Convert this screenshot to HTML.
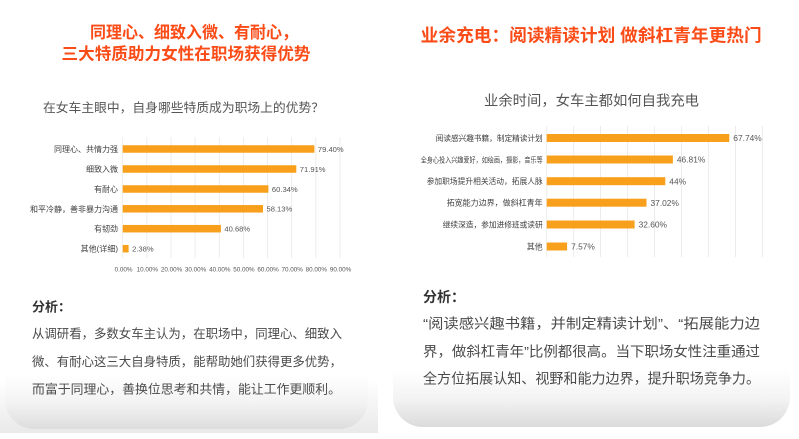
<!DOCTYPE html>
<html>
<head>
<meta charset="utf-8">
<style>
  html,body{margin:0;padding:0;background:#fff;}
  body{width:799px;height:439px;overflow:hidden;}
  svg{display:block;font-family:"Liberation Sans","Noto Sans CJK SC",sans-serif;}
</style>
</head>
<body>
<svg width="799" height="439" viewBox="0 0 799 439" xmlns="http://www.w3.org/2000/svg">
  <defs>
    <linearGradient id="bgL" x1="0" y1="0" x2="0" y2="1">
      <stop offset="0" stop-color="#ffffff"/>
      <stop offset="1" stop-color="#e9e9e9"/>
    </linearGradient>
    <linearGradient id="cardL" gradientUnits="userSpaceOnUse" x1="0" y1="375" x2="0" y2="430">
      <stop offset="0" stop-color="#ffffff"/>
      <stop offset="0.5" stop-color="#f3f3f3"/>
      <stop offset="1" stop-color="#dcdcdc"/>
    </linearGradient>
    <linearGradient id="cardR" gradientUnits="userSpaceOnUse" x1="0" y1="370" x2="0" y2="428">
      <stop offset="0" stop-color="#ffffff"/>
      <stop offset="0.5" stop-color="#f3f3f3"/>
      <stop offset="1" stop-color="#dadada"/>
    </linearGradient>
  </defs>

  <!-- left panel background -->
  <rect x="0" y="0" width="378" height="433" fill="#ffffff"/>
  <rect x="0" y="380" width="378" height="53" fill="url(#bgL)"/>
  <path d="M5 0 H368 V400 A29 29 0 0 1 339 429 H34 A29 29 0 0 1 5 400 Z" fill="url(#cardL)"/>

  <!-- right panel card -->
  <path d="M393 0 H790 V397 A30 30 0 0 1 760 427 H423 A30 30 0 0 1 393 397 Z" fill="url(#cardR)"/>

  <!-- LEFT TITLE -->
  <g fill="#fb4c18" font-weight="bold" font-size="16.5">
    <text x="90" y="38" textLength="208" lengthAdjust="spacingAndGlyphs">同理心、细致入微、有耐心，</text>
    <text x="61.5" y="59.3" textLength="249" lengthAdjust="spacingAndGlyphs">三大特质助力女性在职场获得优势</text>
  </g>
  <text x="43" y="111.8" font-size="12.7" fill="#555" textLength="281" lengthAdjust="spacingAndGlyphs">在女车主眼中，自身哪些特质成为职场上的优势？</text>

  <!-- LEFT CHART gridlines -->
  <g stroke="#e8e8e8" stroke-width="0.8">
    <line x1="122.7" y1="137" x2="122.7" y2="258"/>
    <line x1="146.8" y1="137" x2="146.8" y2="258"/>
    <line x1="171.0" y1="137" x2="171.0" y2="258"/>
    <line x1="195.1" y1="137" x2="195.1" y2="258"/>
    <line x1="219.3" y1="137" x2="219.3" y2="258"/>
    <line x1="243.4" y1="137" x2="243.4" y2="258"/>
    <line x1="267.5" y1="137" x2="267.5" y2="258"/>
    <line x1="291.7" y1="137" x2="291.7" y2="258"/>
    <line x1="315.8" y1="137" x2="315.8" y2="258"/>
    <line x1="340.0" y1="137" x2="340.0" y2="258"/>
  </g>
  <g fill="#f8a01c">
    <rect x="122.7" y="145.25" width="191.7" height="7.5"/>
    <rect x="122.7" y="165.25" width="173.6" height="7.5"/>
    <rect x="122.7" y="185.25" width="145.7" height="7.5"/>
    <rect x="122.7" y="205.05" width="140.3" height="7.5"/>
    <rect x="122.7" y="224.95" width="98.2" height="7.5"/>
    <rect x="122.7" y="244.95" width="5.9" height="7.5"/>
  </g>
  <g font-size="8" fill="#404040" text-anchor="end">
    <text x="118" y="152">同理心、共情力强</text>
    <text x="118" y="172">细致入微</text>
    <text x="118" y="192">有耐心</text>
    <text x="118" y="211.8" textLength="88" lengthAdjust="spacingAndGlyphs">和平冷静，善非暴力沟通</text>
    <text x="118" y="231.7">有韧劲</text>
    <text x="118" y="251.7">其他(详细)</text>
  </g>
  <g font-size="7.6" fill="#555">
    <text x="317.9" y="151.8">79.40%</text>
    <text x="299.8" y="171.8">71.91%</text>
    <text x="271.9" y="191.8">60.34%</text>
    <text x="266.5" y="211.6">58.13%</text>
    <text x="224.4" y="231.5">40.68%</text>
    <text x="132.1" y="251.5">2.38%</text>
  </g>
  <g font-size="6.3" fill="#555" text-anchor="middle">
    <text x="123.5" y="271.6">0.00%</text>
    <text x="147.3" y="271.6">10.00%</text>
    <text x="171.5" y="271.6">20.00%</text>
    <text x="195.6" y="271.6">30.00%</text>
    <text x="219.8" y="271.6">40.00%</text>
    <text x="243.9" y="271.6">50.00%</text>
    <text x="268.0" y="271.6">60.00%</text>
    <text x="292.2" y="271.6">70.00%</text>
    <text x="316.3" y="271.6">80.00%</text>
    <text x="340.5" y="271.6">90.00%</text>
  </g>

  <!-- LEFT ANALYSIS -->
  <text x="32" y="311.6" font-size="13" font-weight="bold" fill="#333">分析：</text>
  <g font-size="12.5" fill="#4a4a4a">
    <text x="32" y="338.2" textLength="310" lengthAdjust="spacingAndGlyphs">从调研看，多数女车主认为，在职场中，同理心、细致入</text>
    <text x="32" y="365.9" textLength="310" lengthAdjust="spacingAndGlyphs">微、有耐心这三大自身特质，能帮助她们获得更多优势，</text>
    <text x="32" y="393.6" textLength="309" lengthAdjust="spacingAndGlyphs">而富于同理心，善换位思考和共情，能让工作更顺利。</text>
  </g>

  <!-- RIGHT TITLE -->
  <text x="420.7" y="41.6" font-size="17.5" font-weight="bold" fill="#fb4c18" textLength="341" lengthAdjust="spacingAndGlyphs">业余充电：阅读精读计划 做斜杠青年更热门</text>
  <text x="484" y="105.4" font-size="14.3" fill="#555" textLength="215" lengthAdjust="spacingAndGlyphs">业余时间，女车主都如何自我充电</text>

  <!-- RIGHT CHART -->
  <g stroke="#e8e8e8" stroke-width="0.8">
    <line x1="546.7" y1="126" x2="546.7" y2="257"/>
    <line x1="573.7" y1="126" x2="573.7" y2="257"/>
    <line x1="600.6" y1="126" x2="600.6" y2="257"/>
    <line x1="627.6" y1="126" x2="627.6" y2="257"/>
    <line x1="654.5" y1="126" x2="654.5" y2="257"/>
    <line x1="681.5" y1="126" x2="681.5" y2="257"/>
    <line x1="708.5" y1="126" x2="708.5" y2="257"/>
    <line x1="735.4" y1="126" x2="735.4" y2="257"/>
    <line x1="762.4" y1="126" x2="762.4" y2="257"/>
  </g>
  <g fill="#f8a01c">
    <rect x="546.7" y="134" width="182.6" height="8"/>
    <rect x="546.7" y="155.5" width="126.2" height="8"/>
    <rect x="546.7" y="177.2" width="118.6" height="8"/>
    <rect x="546.7" y="198.7" width="99.8" height="8"/>
    <rect x="546.7" y="220.5" width="87.9" height="8"/>
    <rect x="546.7" y="242.5" width="20.4" height="8"/>
  </g>
  <g font-size="8" fill="#404040" text-anchor="end">
    <text x="542.7" y="141" textLength="107" lengthAdjust="spacingAndGlyphs">阅读感兴趣书籍，制定精读计划</text>
    <text x="542.7" y="162.4" font-size="7.5" textLength="122" lengthAdjust="spacingAndGlyphs">全身心投入兴趣爱好，如绘画，摄影，音乐等</text>
    <text x="542.7" y="184.2" textLength="116" lengthAdjust="spacingAndGlyphs">参加职场提升相关活动，拓展人脉</text>
    <text x="542.7" y="205.7" textLength="96" lengthAdjust="spacingAndGlyphs">拓宽能力边界，做斜杠青年</text>
    <text x="542.7" y="227.5" textLength="100" lengthAdjust="spacingAndGlyphs">继续深造，参加进修班或读研</text>
    <text x="542.7" y="249.5">其他</text>
  </g>
  <g font-size="8.4" fill="#555">
    <text x="733.3" y="141.1">67.74%</text>
    <text x="676.9" y="162.6">46.81%</text>
    <text x="669.3" y="184.3">44%</text>
    <text x="650.5" y="205.8">37.02%</text>
    <text x="638.6" y="227.6">32.60%</text>
    <text x="571.1" y="249.6">7.57%</text>
  </g>

  <!-- RIGHT ANALYSIS -->
  <text x="423" y="302" font-size="14" font-weight="bold" fill="#333">分析：</text>
  <g font-size="14" fill="#4a4a4a">
    <text x="423" y="328.6" textLength="337" lengthAdjust="spacingAndGlyphs">“阅读感兴趣书籍，并制定精读计划”、“拓展能力边</text>
    <text x="423" y="356.3" textLength="337" lengthAdjust="spacingAndGlyphs">界，做斜杠青年”比例都很高。当下职场女性注重通过</text>
    <text x="423" y="383.6" textLength="337" lengthAdjust="spacingAndGlyphs">全方位拓展认知、视野和能力边界，提升职场竞争力。</text>
  </g>
</svg>
</body>
</html>
